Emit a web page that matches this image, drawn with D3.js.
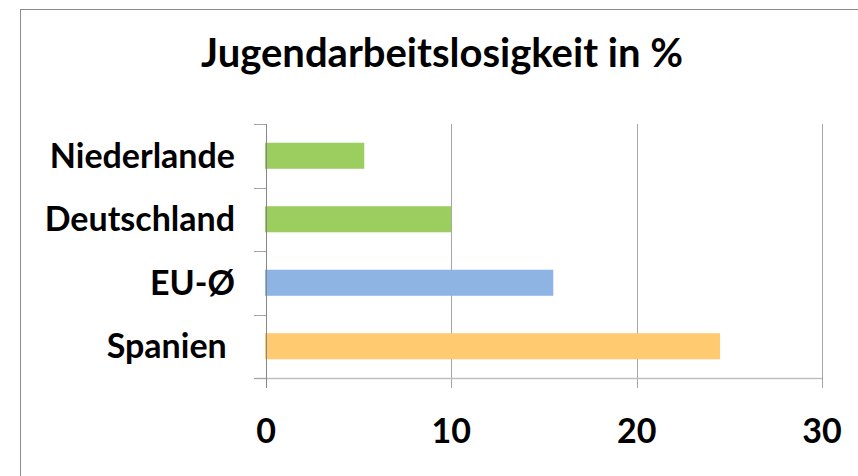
<!DOCTYPE html>
<html>
<head>
<meta charset="utf-8">
<script src="https://cdnjs.cloudflare.com/ajax/libs/d3/7.8.5/d3.min.js"></script>
<style>
  html, body { margin: 0; padding: 0; background: #fff; }
  svg { display: block; }
  text { font-family: Lato, 'Open Sans', sans-serif; font-weight: bold; fill: #000; white-space: pre; }
</style>
</head>
<body>
<div id="chart"></div>
<script>
'use strict';

// chart data
const title = 'Jugendarbeitslosigkeit in %';
const categories = ['Niederlande', 'Deutschland', 'EU-Ø', 'Spanien '];
const values = [5.3, 10.0, 15.5, 24.5];
const barColors = ['#9bcd5f', '#9bcd5f', '#8db4e3', '#ffca70'];
const xTicks = [0, 10, 20, 30];

const W = 858, H = 476;
const margin = {left: 266, top: 124, right: 36, bottom: 98};
const width = W - margin.left - margin.right;
const height = H - margin.top - margin.bottom;

const svg = d3.select('#chart').append('svg')
    .attr('width', W)
    .attr('height', H);

// outer frame of the chart area
svg.append('rect')
    .attr('x', 20.5)
    .attr('y', 9.5)
    .attr('width', 900)
    .attr('height', 500)
    .attr('fill', 'none')
    .attr('stroke', '#8c8c8c');

svg.append('text')
    .attr('x', 442)
    .attr('y', 67)
    .attr('text-anchor', 'middle')
    .attr('font-size', 40)
    .text(title);

const g = svg.append('g')
    .attr('transform', `translate(${margin.left}, ${margin.top})`);

const x = d3.scaleLinear()
    .domain([0, d3.max(xTicks)])
    .range([0, width]);

const y = d3.scaleBand()
    .domain(categories)
    .range([0, height])
    .paddingInner(0.59)
    .paddingOuter(0.295);

// band boundaries for the category ticks
const yEdge = d3.scaleLinear()
    .domain([0, categories.length])
    .range([0, height]);

// vertical gridlines
g.append('g')
    .attr('class', 'grid')
    .call(d3.axisBottom(x).tickValues(xTicks.slice(1)).tickSize(height + 10).tickFormat(''))
    .call(a => a.select('.domain').remove())
    .call(a => a.selectAll('line').attr('stroke', '#a6a6a6').attr('shape-rendering', 'crispEdges'));

// bars
g.append('g')
    .selectAll('rect')
    .data(categories)
    .join('rect')
    .attr('x', x(0) - 1)
    .attr('y', d => y(d))
    .attr('width', (d, i) => x(values[i]) - x(0) + 1)
    .attr('height', y.bandwidth())
    .attr('fill', (d, i) => barColors[i]);

// x-axis line
g.append('line')
    .attr('x1', -12)
    .attr('x2', width)
    .attr('y1', height + 0.5)
    .attr('y2', height + 0.5)
    .attr('stroke', '#bfbfbf')
    .attr('stroke-width', 1.5);

// category ticks
g.append('g')
    .call(d3.axisLeft(yEdge).ticks(categories.length).tickSize(12).tickFormat(''))
    .call(a => a.select('.domain').remove())
    .call(a => a.selectAll('line').attr('stroke', '#a6a6a6').attr('shape-rendering', 'crispEdges'));

// y-axis line
g.append('line')
    .attr('x1', 0.5)
    .attr('x2', 0.5)
    .attr('y1', 0)
    .attr('y2', height + 10)
    .attr('stroke', '#868686');

// category labels
g.append('g')
    .selectAll('text')
    .data(categories)
    .join('text')
    .attr('x', -31)
    .attr('y', d => y(d) + y.bandwidth() / 2 + 12)
    .attr('text-anchor', 'end')
    .attr('font-size', 34)
    .text(d => d);

// x tick labels
g.append('g')
    .selectAll('text')
    .data(xTicks)
    .join('text')
    .attr('x', d => x(d))
    .attr('y', height + 65)
    .attr('text-anchor', 'middle')
    .attr('font-size', 34)
    .text(d => d);
</script>
</body>
</html>
